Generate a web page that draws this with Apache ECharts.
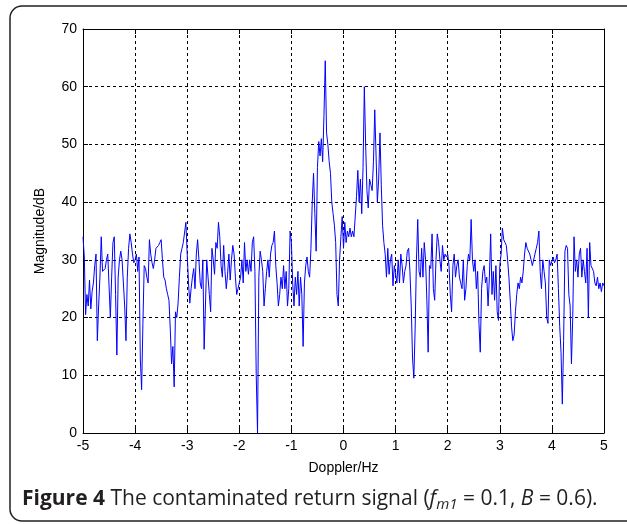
<!DOCTYPE html>
<html>
<head>
<meta charset="utf-8">
<script src="https://cdn.jsdelivr.net/npm/echarts@6/dist/echarts.min.js"></script>
<style>
  html, body { margin: 0; padding: 0; background: #fff; }
  #chart { width: 627px; height: 524px; }
</style>
</head>
<body>
<div id="chart"></div>
<script>
// Doppler spectrum, one sample every 0.025 Hz
const freqStart = -5;
const freqStep = 0.025;

// magnitude (dB), 40 samples per 1 Hz band
const band_m5 = [34, 30.5, 20.5, 24, 22, 26.5, 21.5, 24.5, 26, 29, 31, 16, 22, 27, 34, 28, 28, 28.5, 30, 31,
  31, 20, 27, 33, 34, 24, 13.5, 27, 30, 31.5, 30, 26, 22, 16, 27, 32, 34.5, 33, 31, 29.5];
const band_m4 = [30, 31, 28, 30.5, 13, 7.5, 19, 29, 28.5, 27, 26, 33.5, 31, 29.5, 28.5, 30, 32, 32, 32.5, 33,
  33.5, 30, 27, 26.5, 25, 24, 23, 18, 12, 15, 8, 21, 20, 22.5, 27, 31, 32, 33, 33, 36.5];
const band_m3 = [31, 26, 22.5, 25, 27, 28.5, 25, 31, 33.5, 30, 26, 25, 30, 14.5, 22, 30, 27, 24, 21, 32,
  30, 27.5, 33, 32, 36.5, 34, 29, 27, 32.5, 28, 25, 27.5, 31, 26.5, 30, 32.5, 31, 27, 24, 25];
const band_m2 = [25, 27, 30, 26, 33, 28, 30, 27.5, 30, 28, 33, 34, 28, 10, 0, 27, 31.5, 30, 28, 22,
  25, 28, 30, 27, 31, 32.5, 33, 35, 29, 26, 22, 24, 27, 25, 29, 25, 28, 22, 25, 35];
const band_m1 = [33, 26, 22, 27, 24, 28, 22, 27, 24, 15, 26, 29, 30.5, 28, 27, 32, 40, 45, 38, 31.5,
  46, 50.5, 48, 51, 47, 55, 64.5, 52, 50, 47, 45, 40, 38, 36, 33, 24, 22, 30, 34, 37.5];
const band_0 = [32, 36.5, 33, 35, 34, 35.5, 34, 35, 34, 34, 41, 45.5, 40, 44, 38, 46, 60, 50, 42, 39,
  44, 43, 42, 47, 56, 48, 40, 44, 52, 43, 36, 33, 31, 27, 32, 27.5, 30, 31, 25.5, 29];
const band_1 = [29, 26, 30, 26, 31, 29, 26, 28, 29, 31.5, 32, 28, 22, 13, 9.5, 18, 30, 37, 28, 27,
  32, 27, 33, 30, 23, 14, 29, 28.5, 34.5, 25, 23, 30, 34.5, 33, 30, 28, 32.5, 30, 31, 30.5];
const band_2 = [31, 29, 24, 21, 29, 31, 27, 29, 30, 27, 26, 25, 30, 23, 25, 29, 31, 30, 37, 30,
  28, 30, 25, 28, 19, 14, 25, 28, 29, 26, 27, 22, 27, 34.5, 24, 28, 23, 29, 21, 19.5];
const band_3 = [29, 31, 35.5, 33.5, 33, 32.5, 30, 27, 23, 18.5, 16, 17, 21, 24, 26, 25, 27, 26, 28, 31,
  33, 32, 32, 31, 30, 29, 29, 31, 32, 33, 35, 28, 25, 30, 28, 26, 20, 19, 30, 29];
const band_4 = [29, 30.5, 29.5, 30, 31, 25, 18.5, 14, 5, 16, 31.5, 32.5, 32, 24, 22, 12, 20, 34, 28, 30,
  27, 31, 32, 27, 30, 28, 26, 32, 20, 33, 29, 29, 28, 26, 25.5, 27, 25, 26, 24.5, 26, 25.5];

const magnitudeDb = [].concat(band_m5, band_m4, band_m3, band_m2, band_m1, band_0, band_1, band_2, band_3, band_4);

const xTicks = { min: -5, max: 5, interval: 1 };
const yTicks = { min: 0, max: 70, interval: 10 };

const xLabel = 'Doppler/Hz';
const yLabel = 'Magnitude/dB';

const seriesData = magnitudeDb.map(function (v, i) {
  return [+(freqStart + i * freqStep).toFixed(3), v];
});

const myChart = echarts.init(document.getElementById('chart'), null, { renderer: 'canvas' });

const tickFont = { color: '#000', fontSize: 14, fontFamily: 'Liberation Sans, Arial, sans-serif' };
const dotted = { show: true, lineStyle: { color: '#000', width: 1, type: [3, 3] } };
const axisLineBlack = { show: true, onZero: false, lineStyle: { color: '#000', width: 1 } };
const tickIn = { show: true, inside: true, length: 5, lineStyle: { color: '#000' } };
const capFont = 'Open Sans, Noto Sans, sans-serif';

const option = {
  backgroundColor: '#fff',
  animation: false,
  grid: { left: 83, top: 29, right: 23, bottom: 91 },
  xAxis: [{
    type: 'value',
    min: xTicks.min, max: xTicks.max, interval: xTicks.interval,
    name: xLabel,
    nameLocation: 'middle',
    nameGap: 28,
    nameTextStyle: tickFont,
    axisLine: axisLineBlack,
    axisTick: tickIn,
    axisLabel: Object.assign({ margin: 6 }, tickFont),
    splitLine: dotted
  }, {
    type: 'value',
    position: 'top',
    min: xTicks.min, max: xTicks.max, interval: xTicks.interval,
    axisLine: axisLineBlack,
    axisTick: tickIn,
    axisLabel: { show: false },
    splitLine: { show: false }
  }],
  yAxis: [{
    type: 'value',
    min: yTicks.min, max: yTicks.max, interval: yTicks.interval,
    name: yLabel,
    nameLocation: 'middle',
    nameGap: 36,
    nameTextStyle: tickFont,
    axisLine: axisLineBlack,
    axisTick: tickIn,
    axisLabel: Object.assign({ margin: 6 }, tickFont),
    splitLine: dotted
  }, {
    type: 'value',
    position: 'right',
    min: yTicks.min, max: yTicks.max, interval: yTicks.interval,
    axisLine: axisLineBlack,
    axisTick: tickIn,
    axisLabel: { show: false },
    splitLine: { show: false }
  }],
  series: [{
    type: 'line',
    data: seriesData,
    showSymbol: false,
    symbol: 'none',
    lineStyle: { color: '#0000ff', width: 1 },
    z: 5
  }],
  graphic: [{
    type: 'rect',
    shape: { x: 10, y: 6, width: 660, height: 515, r: 12 },
    style: { fill: 'none', stroke: '#231f20', lineWidth: 1.5 },
    z: -1
  }, {
    type: 'text',
    left: 22,
    top: 489,
    style: {
      text: '{b|Figure 4} The contaminated return signal ({i|f}{sub|m1} = 0.1, {i|B} = 0.6).',
      fill: '#231f20',
      fontSize: 21,
      fontFamily: capFont,
      rich: {
        b: { fontWeight: 'bold', fontSize: 21, fontFamily: capFont, fill: '#231f20' },
        i: { fontStyle: 'italic', fontSize: 21, fontFamily: capFont, fill: '#231f20' },
        sub: { fontStyle: 'italic', fontSize: 15, padding: [10, 0, 0, 0], fontFamily: capFont, fill: '#231f20' }
      }
    }
  }]
};

myChart.setOption(option);
</script>
</body>
</html>
